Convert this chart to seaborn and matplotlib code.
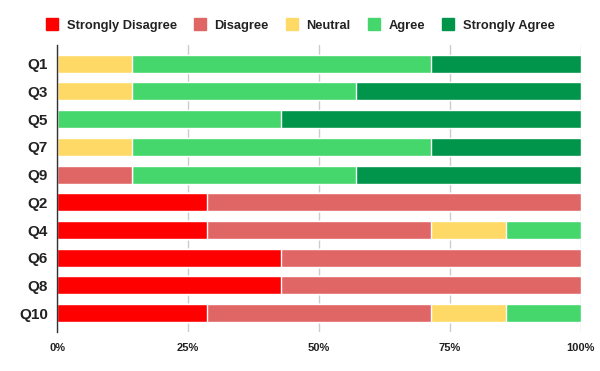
import numpy as np
import pandas as pd
import matplotlib
matplotlib.use("Agg")
import matplotlib.pyplot as plt
import seaborn as sns
from matplotlib.lines import Line2D

questions = ["Q1", "Q3", "Q5", "Q7", "Q9", "Q2", "Q4", "Q6", "Q8", "Q10"]
levels = ["Strongly Disagree", "Disagree", "Neutral", "Agree", "Strongly Agree"]
strongly_disagree = [0, 0, 0, 0, 0, 2, 2, 3, 3, 2]
disagree = [0, 0, 0, 0, 1, 5, 3, 4, 4, 3]
neutral = [1, 1, 0, 1, 0, 0, 1, 0, 0, 1]
agree = [4, 3, 3, 4, 3, 0, 1, 0, 0, 1]
strongly_agree = [2, 3, 4, 2, 3, 0, 0, 0, 0, 0]
colors = ["#FF0000", "#E06666", "#FFD966", "#45D66C", "#00954A"]
x_ticks = [0, 25, 50, 75, 100]
x_labels = ["0%", "25%", "50%", "75%", "100%"]

sns.set_theme(style="white")
plt.rcParams['font.family'] = ['Liberation Sans', 'DejaVu Sans']

counts = np.array([strongly_disagree, disagree, neutral, agree, strongly_agree], dtype=float)
pct = counts / counts.sum(axis=0) * 100
cum = np.cumsum(pct, axis=0)

fig = plt.figure(figsize=(6, 3.71), dpi=100)
ax = fig.add_axes([0.095, 0.105, 0.873, 0.774])

for i in range(len(levels) - 1, -1, -1):
    df = pd.DataFrame({"q": questions, "v": cum[i]})
    sns.barplot(data=df, y="q", x="v", orient="h", color=colors[i],
                saturation=1, width=0.65, ax=ax, order=questions, zorder=3)

ax.set_xlim(0, 100)
ax.set_ylim(9.68, -0.68)
ax.set_xticks(x_ticks)
ax.set_xticklabels(x_labels, fontsize=8.0, fontweight="bold", color="#222222")
ax.tick_params(axis="y", labelsize=11, pad=6.5, length=0)
ax.tick_params(axis="x", length=0, pad=8)
for lab in ax.get_yticklabels():
    lab.set_fontweight("bold")
    lab.set_color("#222222")
ax.set_xlabel("")
ax.set_ylabel("")
ax.grid(axis="x", color="#CCCCCC", linewidth=1, zorder=0)
ax.set_axisbelow(True)
for s in ["top", "right", "bottom"]:
    ax.spines[s].set_visible(False)
ax.spines["left"].set_color("#333333")
ax.spines["left"].set_linewidth(1)
ax.spines["left"].set_zorder(5)

handles = [Line2D([0], [0], marker="s", linestyle="", markersize=8.6,
                  markerfacecolor=c, markeredgecolor=c) for c in colors]
leg = fig.legend(handles, levels, loc="center", bbox_to_anchor=(0.5, 0.93),
                 ncol=5, frameon=False, handletextpad=0.65, columnspacing=1.27,
                 handlelength=1.0, prop={"size": 9.3, "weight": "bold"})
for t in leg.get_texts():
    t.set_color("#222222")

fig.savefig("out.png", dpi=100)
